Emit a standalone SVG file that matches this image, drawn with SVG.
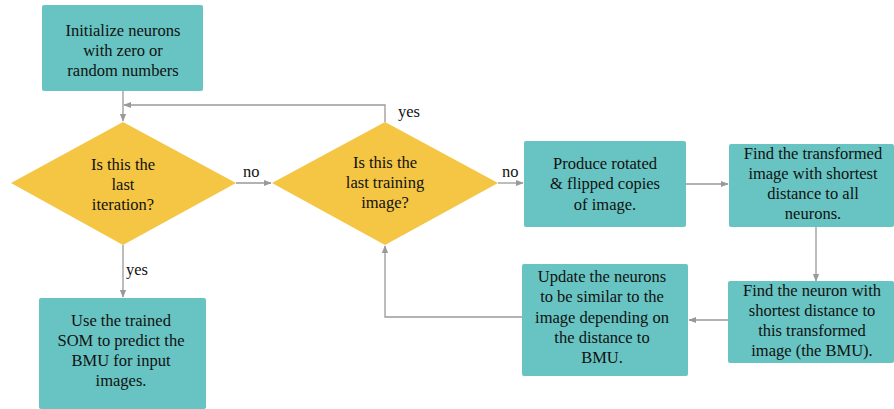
<svg xmlns="http://www.w3.org/2000/svg" width="894" height="409" viewBox="0 0 894 409" font-family="Liberation Serif, Times New Roman, serif">
<style>
.box{fill:#67c4c2;}
.dia{fill:#f4c644;}
text{font-size:16.5px;fill:#111;text-anchor:middle;}
.lbl{text-anchor:start;}
.con{fill:none;stroke:#999;stroke-width:1.3;}
</style>
<defs>
<marker id="ah" viewBox="0 0 10 10" refX="9" refY="5" markerWidth="6" markerHeight="6" orient="auto">
<path d="M0,1 L10,5 L0,9 z" fill="#999"/>
</marker>
</defs>
<g id="connectors">
<path class="con" d="M123,91 V121" marker-end="url(#ah)"/>
<path class="con" d="M385,122 V105 H124" marker-end="url(#ah)"/>
<path class="con" d="M236,183 H271" marker-end="url(#ah)"/>
<path class="con" d="M498,183 H523" marker-end="url(#ah)"/>
<path class="con" d="M686,184 H728" marker-end="url(#ah)"/>
<path class="con" d="M816,227 V281" marker-end="url(#ah)"/>
<path class="con" d="M728,320 H689" marker-end="url(#ah)"/>
<path class="con" d="M522,317 H385 V246" marker-end="url(#ah)"/>
<path class="con" d="M123,245 V297" marker-end="url(#ah)"/>
<text class="lbl" x="398" y="117">yes</text>
<text class="lbl" x="243" y="177">no</text>
<text class="lbl" x="502" y="177">no</text>
<text class="lbl" x="126" y="275">yes</text>
</g>
<g id="init">
<rect class="box" x="42" y="5" width="161" height="86" rx="2"/>
<text x="123" y="36">Initialize neurons</text>
<text x="123" y="56">with zero or</text>
<text x="123" y="76">random numbers</text>
</g>
<g id="lastIteration">
<polygon class="dia" points="123,122 236,183 123,245 11,183"/>
<text x="123" y="170">Is this the</text>
<text x="123" y="190">last</text>
<text x="123" y="210">iteration?</text>
</g>
<g id="lastImage">
<polygon class="dia" points="385,122 498,183 385,245 272,183"/>
<text x="385" y="168">Is this the</text>
<text x="385" y="188">last training</text>
<text x="385" y="208">image?</text>
</g>
<g id="produce">
<rect class="box" x="524" y="141" width="162" height="86" rx="2"/>
<text x="605" y="169">Produce rotated</text>
<text x="605" y="189">&amp; flipped copies</text>
<text x="605" y="210">of image.</text>
</g>
<g id="findTransformed">
<rect class="box" x="729" y="144" width="165" height="83" rx="2"/>
<text x="813" y="159">Find the transformed</text>
<text x="813" y="179">image with shortest</text>
<text x="813" y="199">distance to all</text>
<text x="813" y="219">neurons.</text>
</g>
<g id="findNeuron">
<rect class="box" x="728" y="281" width="166" height="82" rx="2"/>
<text x="812" y="296">Find the neuron with</text>
<text x="812" y="316">shortest distance to</text>
<text x="812" y="336">this transformed</text>
<text x="812" y="356">image (the BMU).</text>
</g>
<g id="update">
<rect class="box" x="522" y="264" width="166" height="112" rx="2"/>
<text x="602" y="282">Update the neurons</text>
<text x="602" y="302">to be similar to the</text>
<text x="602" y="323">image depending on</text>
<text x="602" y="343">the distance to</text>
<text x="602" y="363">BMU.</text>
</g>
<g id="useSOM">
<rect class="box" x="39" y="298" width="167" height="111" rx="2"/>
<text x="121" y="326">Use the trained</text>
<text x="121" y="346">SOM to predict the</text>
<text x="121" y="366">BMU for input</text>
<text x="121" y="386">images.</text>
</g>
</svg>
